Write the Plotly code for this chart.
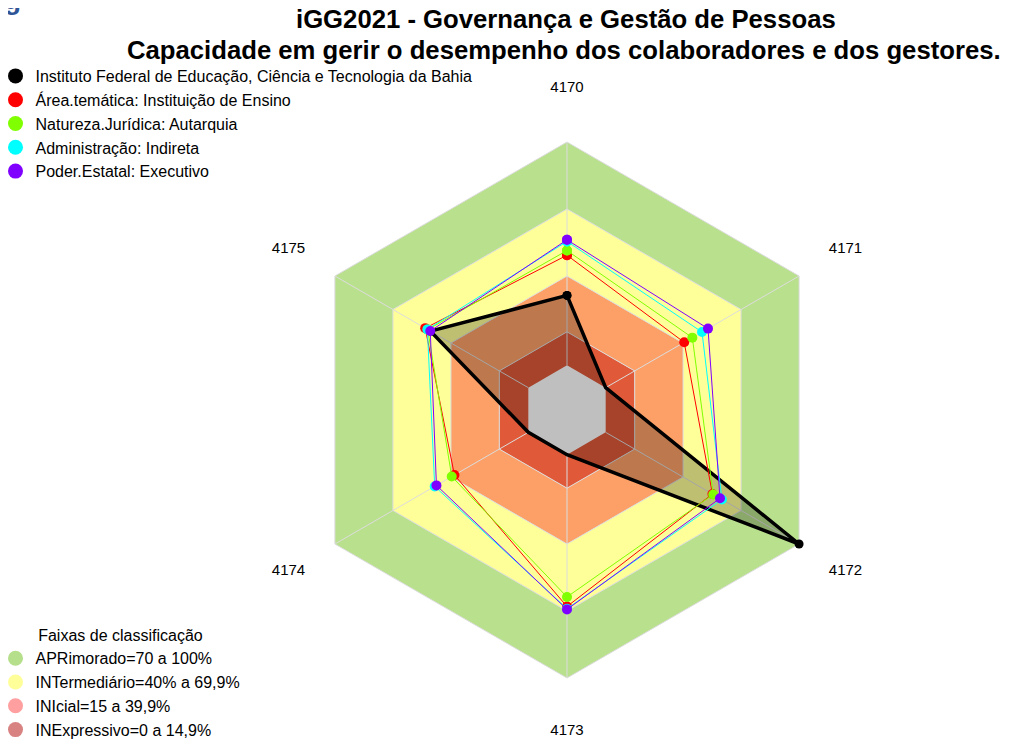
import plotly.graph_objects as go

# ---------------- data ----------------
categories = ["4170", "4171", "4172", "4173", "4174", "4175"]

ifba = [31.3, 0, 100, 0, 0, 50.6]
area_tematica = [49.3, 40.6, 55.2, 68.0, 38.2, 53.3]
natureza_juridica = [51.4, 44.8, 55.6, 63.7, 39.6, 52.0]
administracao = [55.5, 49.8, 60.1, 69.0, 48.4, 52.2]
poder_estatal = [56.2, 52.9, 59.1, 69.3, 47.5, 50.7]

series_names = [
    "Instituto Federal de Educação, Ciência e Tecnologia da Bahia",
    "Área.temática: Instituição de Ensino",
    "Natureza.Jurídica: Autarquia",
    "Administração: Indireta",
    "Poder.Estatal: Executivo",
]
series_values = [ifba, area_tematica, natureza_juridica, administracao, poder_estatal]
series_colors = ["#000000", "#ff0000", "#80ff00", "#00ffff", "#8000ff"]

band_limits = [0, 15, 40, 70, 100]
band_fill_colors = ["#e05a3a", "#fca068", "#ffff99", "#b9e08d"]
grid_rings = [15, 40, 70, 100]

band_names = [
    "APRimorado=70 a 100%",
    "INTermediário=40% a 69,9%",
    "INIcial=15 a 39,9%",
    "INExpressivo=0 a 14,9%",
]
band_legend_colors = ["#b5df8a", "#ffff9a", "#ff9f9f", "#d98282"]

title_line1 = "<b>iGG2021 - Governança e Gestão de Pessoas</b>"
title_line2 = "<b>Capacidade em gerir o desempenho dos colaboradores e dos gestores.</b>"

# radial scale: -20 is the centre, labels sit on the r = 124 ring
R_MIN, R_MAX, LABEL_R = -20, 124, 124

# ---------------- layout geometry (pixels) ----------------
W, H = 1002, 734              # page body has an 8px margin
CX, CY = 559, 402             # polar centre
R100 = 268                    # pixel radius of the 100 ring
R_TOT = R100 * (R_MAX - R_MIN) / (100 - R_MIN)

FONT = "Liberation Sans, Arial, sans-serif"
GRID = "#dcdcdc"

fig = go.Figure()

theta_closed = categories + [categories[0]]

# ---------------- classification bands (rings) ----------------
fig.add_trace(go.Scatterpolar(
    r=[band_limits[0]] * len(theta_closed), theta=theta_closed,
    mode="lines", line=dict(width=0, color="rgba(0,0,0,0)"),
    showlegend=False, hoverinfo="skip",
))
for lim, col in zip(band_limits[1:], band_fill_colors):
    fig.add_trace(go.Scatterpolar(
        r=[lim] * len(theta_closed), theta=theta_closed,
        mode="lines", line=dict(width=0, color="rgba(0,0,0,0)"),
        fill="tonext", fillcolor=col,
        showlegend=False, hoverinfo="skip",
    ))

# ---------------- grid (rings + spokes from 0 to 100) ----------------
for lim in grid_rings:
    fig.add_trace(go.Scatterpolar(
        r=[lim] * len(theta_closed), theta=theta_closed, mode="lines",
        line=dict(width=1, color=GRID), showlegend=False, hoverinfo="skip",
    ))
spoke_r, spoke_t = [], []
for c in categories:
    spoke_r += [band_limits[0], band_limits[-1], None]
    spoke_t += [c, c, None]
fig.add_trace(go.Scatterpolar(
    r=spoke_r, theta=spoke_t, mode="lines", connectgaps=False,
    line=dict(width=1, color=GRID), showlegend=False, hoverinfo="skip",
))

# ---------------- data series ----------------
for i, (name, vals, col) in enumerate(zip(series_names, series_values, series_colors)):
    closed = list(vals) + [vals[0]]
    if i == 0:
        fig.add_trace(go.Scatterpolar(
            r=closed, theta=theta_closed, mode="lines+markers",
            line=dict(color=col, width=3.5),
            marker=dict(color=col, size=9),
            fill="toself", fillcolor="rgba(0,0,0,0.25)",
            showlegend=False, cliponaxis=False, name=name,
        ))
    else:
        fig.add_trace(go.Scatterpolar(
            r=closed, theta=theta_closed, mode="lines+markers",
            line=dict(color=col, width=1),
            marker=dict(color=col, size=10),
            showlegend=False, cliponaxis=False, name=name,
        ))

# ---------------- angular category labels ----------------
fig.add_trace(go.Scatterpolar(
    r=[LABEL_R] * len(categories), theta=categories, mode="text",
    text=categories, textposition="middle center",
    textfont=dict(family=FONT, size=15, color="black"),
    showlegend=False, hoverinfo="skip", cliponaxis=False,
))

# ---------------- legend entries ----------------
for name, col in zip(series_names, series_colors):
    fig.add_trace(go.Scatterpolar(
        r=[None], theta=[None], mode="markers",
        marker=dict(color=col, size=15), name=name, legend="legend",
        showlegend=True, hoverinfo="skip",
    ))
for name, col in zip(band_names, band_legend_colors):
    fig.add_trace(go.Scatterpolar(
        r=[None], theta=[None], mode="markers",
        marker=dict(color=col, size=15), name=name, legend="legend2",
        showlegend=True, hoverinfo="skip",
    ))

fig.update_layout(
    width=W, height=H,
    margin=dict(l=0, r=0, t=0, b=0, autoexpand=False),
    paper_bgcolor="white",
    font=dict(family=FONT, size=16, color="black"),
    polar=dict(
        domain=dict(x=[(CX - R_TOT) / W, (CX + R_TOT) / W],
                    y=[1 - (CY + R_TOT) / H, 1 - (CY - R_TOT) / H]),
        gridshape="linear",
        bgcolor="rgba(0,0,0,0)",
        radialaxis=dict(range=[R_MIN, R_MAX], visible=False, showgrid=False),
        angularaxis=dict(direction="clockwise", rotation=90, type="category",
                         categoryorder="array", categoryarray=categories,
                         showticklabels=False, ticks="", showline=False,
                         showgrid=False),
    ),
    legend=dict(x=-12.5 / W, y=1 - 51 / H, xanchor="left", yanchor="top",
                bgcolor="rgba(0,0,0,0)", font=dict(family=FONT, size=16),
                tracegroupgap=0),
    legend2=dict(x=-12.5 / W, y=-4.5 / H, xanchor="left", yanchor="bottom",
                 bgcolor="rgba(0,0,0,0)", font=dict(family=FONT, size=16),
                 title=dict(text="Faixas de classificação", side="top center",
                            font=dict(family=FONT, size=16))),
    annotations=[
        dict(text=title_line1, xref="paper", yref="paper", x=558 / W, y=1 - 11 / H,
             xanchor="center", yanchor="middle", showarrow=False,
             font=dict(family=FONT, size=25.7, color="black")),
        dict(text=title_line2, xref="paper", yref="paper", x=556 / W, y=1 - 42 / H,
             xanchor="center", yanchor="middle", showarrow=False,
             font=dict(family=FONT, size=25.7, color="black")),
        dict(text="<b>g</b>", xref="paper", yref="paper", x=0.0, y=1.0,
             xanchor="left", yanchor="bottom", yshift=-9, xshift=-6, showarrow=False,
             font=dict(family=FONT, size=28, color="#2f5597")),
    ],
)

fig.write_html("out.html")
